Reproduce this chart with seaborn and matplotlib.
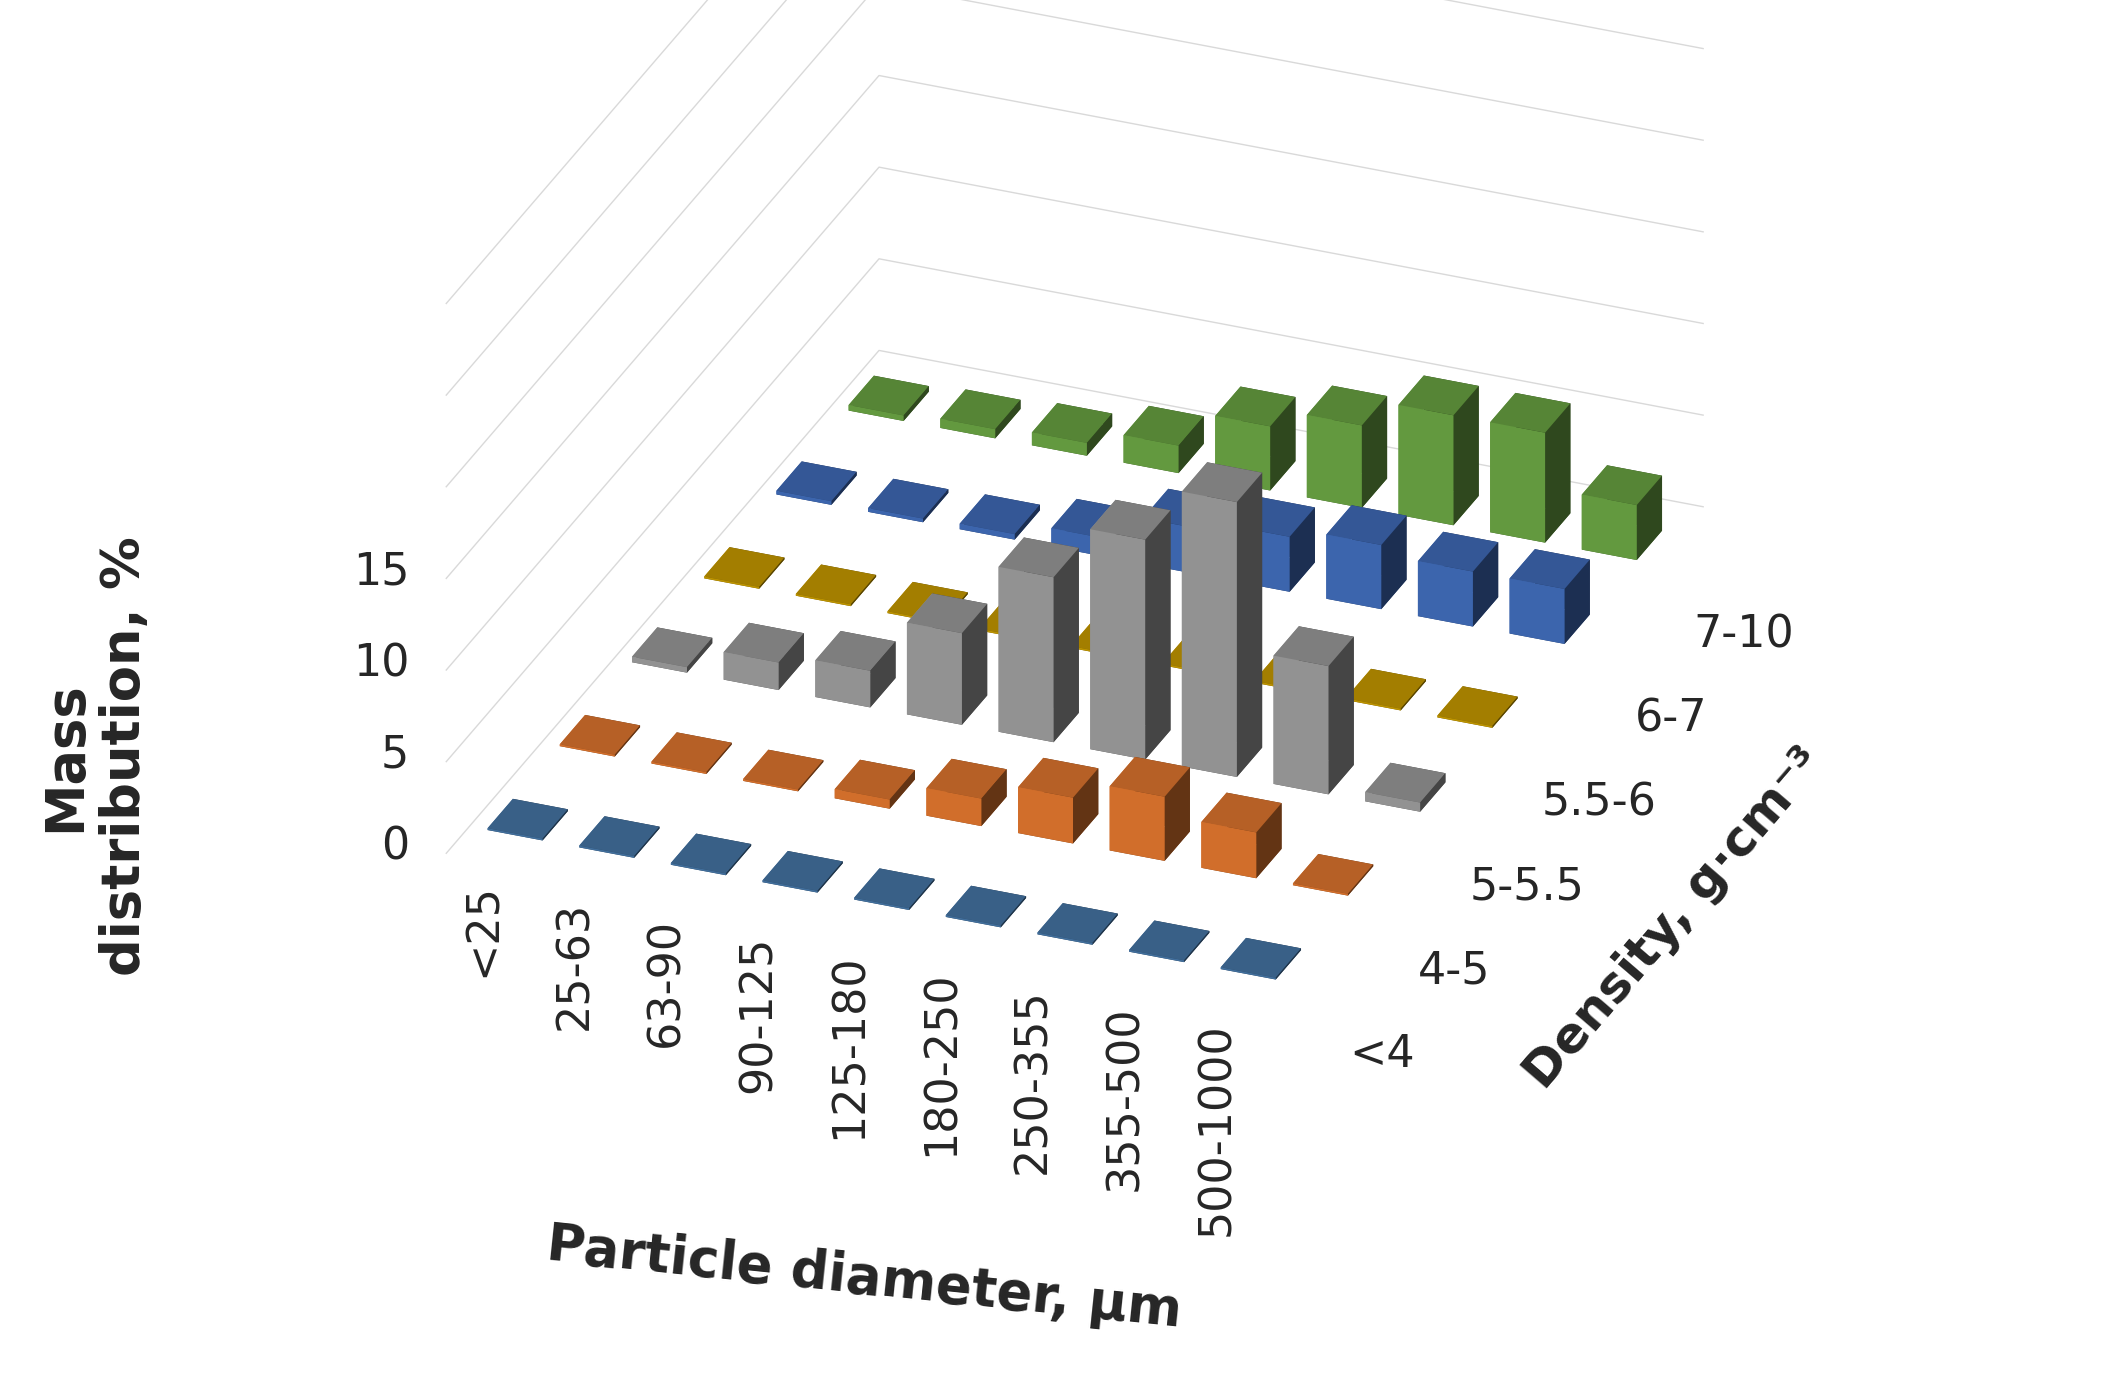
import numpy as np
import matplotlib
matplotlib.use("Agg")
import matplotlib.pyplot as plt
import seaborn as sns

sns.set_theme(style="white")
plt.rcParams['font.family'] = ['DejaVu Sans']

diameters = ['<25', '25-63', '63-90', '90-125', '125-180', '180-250', '250-355', '355-500', '500-1000']
densities = ['<4', '4-5', '5-5.5', '5.5-6', '6-7', '7-10']
colors = ['#4a7db0', '#ed7d31', '#a5a5a5', '#d4a500', '#4472c4', '#70ad47']

d_lt4 = [0.1, 0.1, 0.1, 0.1, 0.1, 0.1, 0.1, 0.1, 0.1]
d_4_5 = [0.1, 0.1, 0.1, 0.5, 1.5, 2.5, 3.5, 2.5, 0.1]
d_5_55 = [0.3, 1.5, 2.0, 5.0, 9.0, 12.0, 15.0, 7.0, 0.5]
d_55_6 = [0.1, 0.1, 0.1, 0.1, 0.1, 0.1, 0.1, 0.1, 0.1]
d_6_7 = [0.2, 0.2, 0.3, 1.0, 2.5, 3.0, 3.5, 3.0, 3.0]
d_7_10 = [0.3, 0.5, 0.7, 1.5, 3.5, 4.5, 6.0, 6.0, 3.0]
series = [d_lt4, d_4_5, d_5_55, d_55_6, d_6_7, d_7_10]
z_ticks = [0, 5, 10, 15]

fig = plt.figure(figsize=(21.08, 13.75), dpi=100)
ax = fig.add_axes([-0.02, 0.13, 1.04, 1.12], projection='3d', proj_type='ortho')

wx, wy = 0.6, 0.35
for j, vals in enumerate(series):
    for i, v in enumerate(vals):
        ax.bar3d(i - wx / 2, j - wy / 2, 0, wx, wy, v, color=colors[j], shade=True,
                 edgecolor='none')

ax.set_xlim(-0.5, len(diameters) - 0.5)
ax.set_ylim(-0.5, len(densities) - 0.5)
ax.set_zlim(0, 30)
ax.set_xticks(range(len(diameters)))
ax.set_xticklabels(diameters, rotation=90, fontsize=32, va='top')
ax.set_yticks(range(len(densities)))
ax.set_yticklabels(densities, fontsize=32)
ax.tick_params(axis='y', pad=45)
ax.set_zticks([0, 5, 10, 15, 20, 25, 30])
ax.set_zticklabels([])
for z in z_ticks:
    ax.text(-0.9, -0.5, z, str(z), fontsize=32, ha='right', va='center')
ax.set_ylabel('Density, g·cm⁻³', fontsize=36, fontweight='bold', labelpad=110)
fig.text(0.41, 0.07, 'Particle diameter, µm', fontsize=38, fontweight='bold',
         rotation=-6, ha='center', va='center')
fig.text(0.045, 0.45, 'Mass\ndistribution, %', fontsize=38, fontweight='bold',
         rotation=90, ha='center', va='center')

for a in (ax.xaxis, ax.yaxis, ax.zaxis):
    a.set_pane_color((1, 1, 1, 0))
    a.line.set_color((0, 0, 0, 0))
    a._axinfo['grid']['color'] = '#d9d9d9'
    a._axinfo['tick']['inward_factor'] = 0
    a._axinfo['tick']['outward_factor'] = 0
ax.xaxis._axinfo['grid']['linewidth'] = 0
ax.yaxis._axinfo['grid']['linewidth'] = 0
ax.view_init(elev=28, azim=-68)
ax.set_box_aspect((10, 13, 7))

fig.savefig('out.png', dpi=100)
